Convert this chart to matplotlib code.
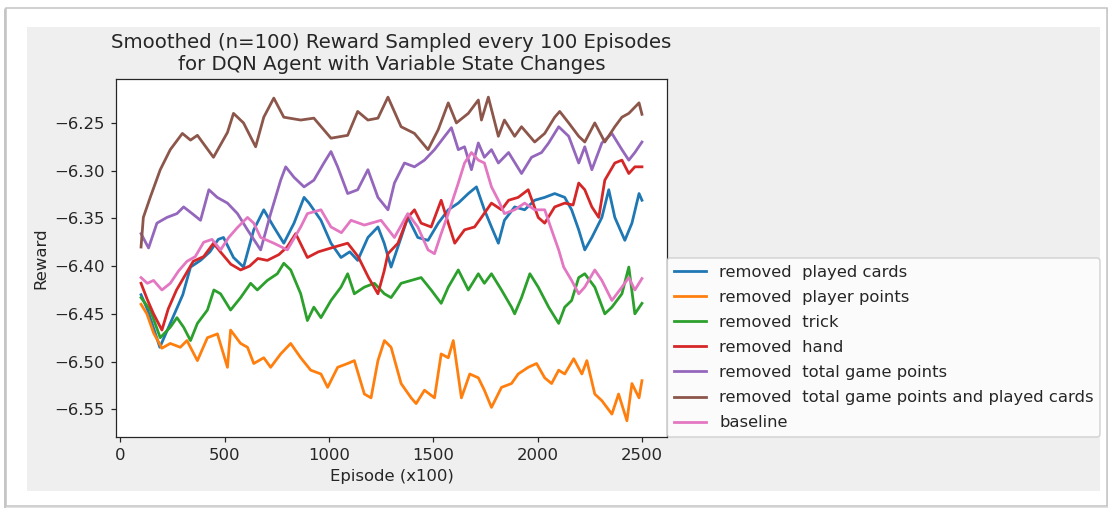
import matplotlib
matplotlib.use("Agg")
import matplotlib.pyplot as plt
from matplotlib.patches import Rectangle

# Smoothed reward curves (episode index in units of 100 episodes)
played_cards_x = [100, 130, 160, 190, 220, 260, 300, 337, 385, 430, 470, 495, 543, 591, 640,
                  688, 736, 784, 833, 881, 905, 962, 1010, 1058, 1100, 1138, 1187, 1235, 1265,
                  1298, 1346, 1378, 1426, 1475, 1524, 1572, 1620, 1668, 1707, 1745, 1779, 1812,
                  1841, 1890, 1938, 1986, 2034, 2082, 2130, 2163, 2197, 2226, 2260, 2308, 2341,
                  2370, 2418, 2452, 2486, 2500]
played_cards_y = [-6.430, -6.445, -6.465, -6.485, -6.470, -6.450, -6.430, -6.401, -6.394, -6.385,
                  -6.372, -6.370, -6.391, -6.401, -6.362, -6.341, -6.359, -6.376, -6.355, -6.328,
                  -6.334, -6.352, -6.376, -6.391, -6.385, -6.394, -6.370, -6.359, -6.376, -6.401,
                  -6.370, -6.349, -6.370, -6.373, -6.355, -6.341, -6.334, -6.324, -6.317, -6.341,
                  -6.359, -6.376, -6.352, -6.338, -6.341, -6.331, -6.328, -6.324, -6.328, -6.341,
                  -6.362, -6.383, -6.370, -6.349, -6.320, -6.349, -6.373, -6.355, -6.324, -6.331]

player_points_x = [100, 128, 160, 200, 240, 288, 320, 370, 418, 466, 514, 529, 577, 610, 640,
                   688, 721, 769, 817, 865, 913, 962, 994, 1042, 1090, 1122, 1170, 1202, 1235,
                   1266, 1298, 1346, 1394, 1418, 1458, 1506, 1538, 1572, 1596, 1635, 1675, 1716,
                   1745, 1779, 1827, 1875, 1907, 1955, 1995, 2034, 2067, 2101, 2130, 2173, 2212,
                   2236, 2274, 2308, 2356, 2388, 2428, 2452, 2486, 2500]
player_points_y = [-6.440, -6.450, -6.470, -6.486, -6.481, -6.485, -6.478, -6.499, -6.475, -6.471,
                   -6.506, -6.467, -6.481, -6.485, -6.502, -6.496, -6.506, -6.492, -6.481, -6.496,
                   -6.509, -6.513, -6.527, -6.506, -6.502, -6.499, -6.534, -6.538, -6.499, -6.478,
                   -6.485, -6.523, -6.538, -6.544, -6.530, -6.538, -6.492, -6.496, -6.478, -6.538,
                   -6.513, -6.517, -6.530, -6.548, -6.527, -6.523, -6.513, -6.506, -6.502, -6.517,
                   -6.523, -6.509, -6.513, -6.497, -6.513, -6.499, -6.534, -6.541, -6.555, -6.534,
                   -6.562, -6.523, -6.538, -6.520]

trick_x = [100, 144, 192, 240, 272, 304, 337, 370, 418, 449, 481, 529, 577, 625, 657, 705,
           753, 784, 817, 865, 897, 928, 962, 1010, 1058, 1090, 1122, 1170, 1218, 1266, 1298,
           1346, 1394, 1442, 1490, 1538, 1572, 1620, 1668, 1716, 1745, 1779, 1827, 1875, 1890,
           1923, 1963, 2003, 2053, 2101, 2130, 2163, 2197, 2226, 2274, 2322, 2356, 2404, 2437,
           2466, 2500]
trick_y = [-6.433, -6.446, -6.475, -6.464, -6.454, -6.464, -6.478, -6.460, -6.446, -6.425,
           -6.429, -6.446, -6.433, -6.418, -6.425, -6.415, -6.408, -6.397, -6.404, -6.429,
           -6.457, -6.443, -6.454, -6.436, -6.422, -6.408, -6.429, -6.422, -6.418, -6.429,
           -6.433, -6.418, -6.415, -6.412, -6.425, -6.439, -6.422, -6.404, -6.425, -6.408,
           -6.418, -6.408, -6.425, -6.443, -6.450, -6.433, -6.408, -6.422, -6.443, -6.460,
           -6.443, -6.436, -6.412, -6.408, -6.422, -6.450, -6.443, -6.429, -6.401, -6.450,
           -6.439]

hand_x = [100, 130, 160, 200, 230, 270, 310, 350, 400, 447, 480, 530, 577, 620, 660, 705,
          760, 800, 841, 897, 950, 1026, 1090, 1140, 1190, 1235, 1265, 1283, 1331, 1378, 1410,
          1442, 1490, 1538, 1572, 1603, 1650, 1698, 1731, 1779, 1827, 1861, 1907, 1955, 2003,
          2034, 2082, 2130, 2170, 2197, 2226, 2260, 2293, 2322, 2370, 2404, 2437, 2466, 2500]
hand_y = [-6.418, -6.435, -6.450, -6.467, -6.445, -6.425, -6.410, -6.395, -6.390, -6.376,
          -6.385, -6.398, -6.404, -6.400, -6.392, -6.394, -6.388, -6.380, -6.366, -6.391,
          -6.385, -6.380, -6.376, -6.390, -6.412, -6.429, -6.405, -6.387, -6.376, -6.349,
          -6.341, -6.355, -6.359, -6.331, -6.355, -6.376, -6.362, -6.359, -6.349, -6.334,
          -6.341, -6.331, -6.328, -6.320, -6.349, -6.355, -6.338, -6.334, -6.336, -6.313,
          -6.320, -6.338, -6.349, -6.310, -6.292, -6.289, -6.303, -6.296, -6.296]

total_points_x = [100, 136, 176, 224, 272, 304, 345, 385, 425, 465, 514, 562, 610, 673, 721,
                  769, 793, 833, 881, 928, 976, 1010, 1042, 1090, 1138, 1187, 1235, 1283, 1314,
                  1362, 1410, 1458, 1506, 1555, 1587, 1620, 1650, 1683, 1716, 1745, 1779, 1812,
                  1861, 1923, 1971, 2019, 2053, 2101, 2149, 2197, 2226, 2260, 2308, 2356, 2404,
                  2437, 2466, 2500]
total_points_y = [-6.366, -6.381, -6.355, -6.349, -6.345, -6.338, -6.345, -6.352, -6.320, -6.328,
                  -6.334, -6.345, -6.362, -6.383, -6.345, -6.310, -6.296, -6.307, -6.317, -6.310,
                  -6.292, -6.280, -6.296, -6.324, -6.320, -6.299, -6.328, -6.341, -6.313, -6.292,
                  -6.296, -6.289, -6.278, -6.264, -6.255, -6.278, -6.275, -6.299, -6.271, -6.286,
                  -6.278, -6.292, -6.281, -6.303, -6.286, -6.281, -6.271, -6.254, -6.264, -6.292,
                  -6.275, -6.299, -6.271, -6.261, -6.278, -6.289, -6.281, -6.270]

points_and_cards_x = [100, 111, 144, 192, 240, 298, 337, 370, 447, 514, 543, 591, 649, 688,
                      736, 784, 865, 928, 1010, 1090, 1138, 1187, 1235, 1283, 1346, 1410, 1475,
                      1524, 1572, 1611, 1668, 1716, 1731, 1764, 1812, 1841, 1890, 1923, 1986,
                      2034, 2082, 2106, 2149, 2197, 2226, 2274, 2322, 2370, 2404, 2437, 2486,
                      2500]
points_and_cards_y = [-6.380, -6.349, -6.328, -6.299, -6.278, -6.261, -6.268, -6.263, -6.286,
                      -6.260, -6.240, -6.250, -6.275, -6.244, -6.224, -6.244, -6.247, -6.245,
                      -6.266, -6.263, -6.238, -6.247, -6.245, -6.223, -6.254, -6.261, -6.278,
                      -6.257, -6.229, -6.250, -6.240, -6.226, -6.247, -6.223, -6.264, -6.247,
                      -6.264, -6.254, -6.270, -6.261, -6.244, -6.238, -6.250, -6.264, -6.270,
                      -6.250, -6.270, -6.254, -6.244, -6.240, -6.229, -6.241]

baseline_x = [100, 130, 160, 200, 240, 280, 320, 360, 400, 440, 481, 520, 560, 610, 640, 673,
              736, 801, 865, 897, 962, 1010, 1060, 1106, 1170, 1250, 1314, 1378, 1426, 1475,
              1506, 1538, 1572, 1620, 1650, 1683, 1716, 1745, 1779, 1812, 1841, 1890, 1938,
              1986, 2034, 2067, 2101, 2125, 2163, 2197, 2226, 2274, 2308, 2356, 2404, 2437,
              2466, 2500]
baseline_y = [-6.412, -6.418, -6.415, -6.425, -6.418, -6.405, -6.395, -6.390, -6.375, -6.372,
              -6.383, -6.370, -6.360, -6.349, -6.355, -6.370, -6.376, -6.383, -6.359, -6.345,
              -6.341, -6.359, -6.365, -6.352, -6.357, -6.352, -6.370, -6.345, -6.359, -6.383,
              -6.387, -6.366, -6.345, -6.313, -6.292, -6.281, -6.289, -6.292, -6.317, -6.331,
              -6.345, -6.341, -6.334, -6.341, -6.341, -6.362, -6.383, -6.401, -6.415, -6.429,
              -6.422, -6.404, -6.415, -6.436, -6.422, -6.412, -6.425, -6.413]

series = [
    ("removed  played cards", played_cards_x, played_cards_y),
    ("removed  player points", player_points_x, player_points_y),
    ("removed  trick", trick_x, trick_y),
    ("removed  hand", hand_x, hand_y),
    ("removed  total game points", total_points_x, total_points_y),
    ("removed  total game points and played cards", points_and_cards_x, points_and_cards_y),
    ("baseline", baseline_x, baseline_y),
]

plt.rcParams.update({
    "font.size": 10.7,
    "axes.titlesize": 12.8,
    "axes.labelsize": 10.7,
    "xtick.labelsize": 10.7,
    "ytick.labelsize": 10.7,
    "legend.fontsize": 10.6,
    "text.color": "#262626",
    "axes.labelcolor": "#262626",
    "xtick.color": "#262626",
    "ytick.color": "#262626",
    "axes.edgecolor": "#262626",
})

DPI = 111
fig = plt.figure(figsize=(1108 / DPI, 508 / DPI), dpi=DPI, facecolor="white")
W, H = 1108.0, 508.0

# page frame with a soft shadow, and the grey canvas behind the plot
for off, a in [(3, 0.05), (2, 0.08), (1, 0.12)]:
    fig.add_artist(Rectangle((5 / W, (H - 507 - off) / H), (1102 + off) / W, 499 / H,
                             transform=fig.transFigure, facecolor="none",
                             edgecolor=(0, 0, 0, a), linewidth=1.2, zorder=-3))
fig.add_artist(Rectangle((6 / W, (H - 506) / H), 1101 / W, 498 / H,
                         transform=fig.transFigure, facecolor="white",
                         edgecolor="#c4c4c4", linewidth=1.0, zorder=-2))
fig.add_artist(Rectangle((27 / W, (H - 491) / H), (1100 - 27) / W, (491 - 27) / H,
                         transform=fig.transFigure, facecolor="#efefef",
                         edgecolor="none", zorder=-1))

ax = fig.add_axes([116 / W, (H - 437) / H, (667 - 116) / W, (437 - 79) / H])
for label, xs, ys in series:
    ax.plot(xs, ys, label=label, linewidth=1.8)

ax.set_xlim(-20, 2620)
ax.set_ylim(-6.579, -6.204)
ax.set_xticks([0, 500, 1000, 1500, 2000, 2500])
ax.set_title("Smoothed (n=100) Reward Sampled every 100 Episodes\n"
             "for DQN Agent with Variable State Changes")
ax.set_xlabel("Episode (x100)")
ax.set_ylabel("Reward")
ax.legend(loc="lower left", bbox_to_anchor=(1, 0), borderaxespad=0,
          labelspacing=0.62)

fig.savefig("out.png", dpi=DPI, facecolor="white")
